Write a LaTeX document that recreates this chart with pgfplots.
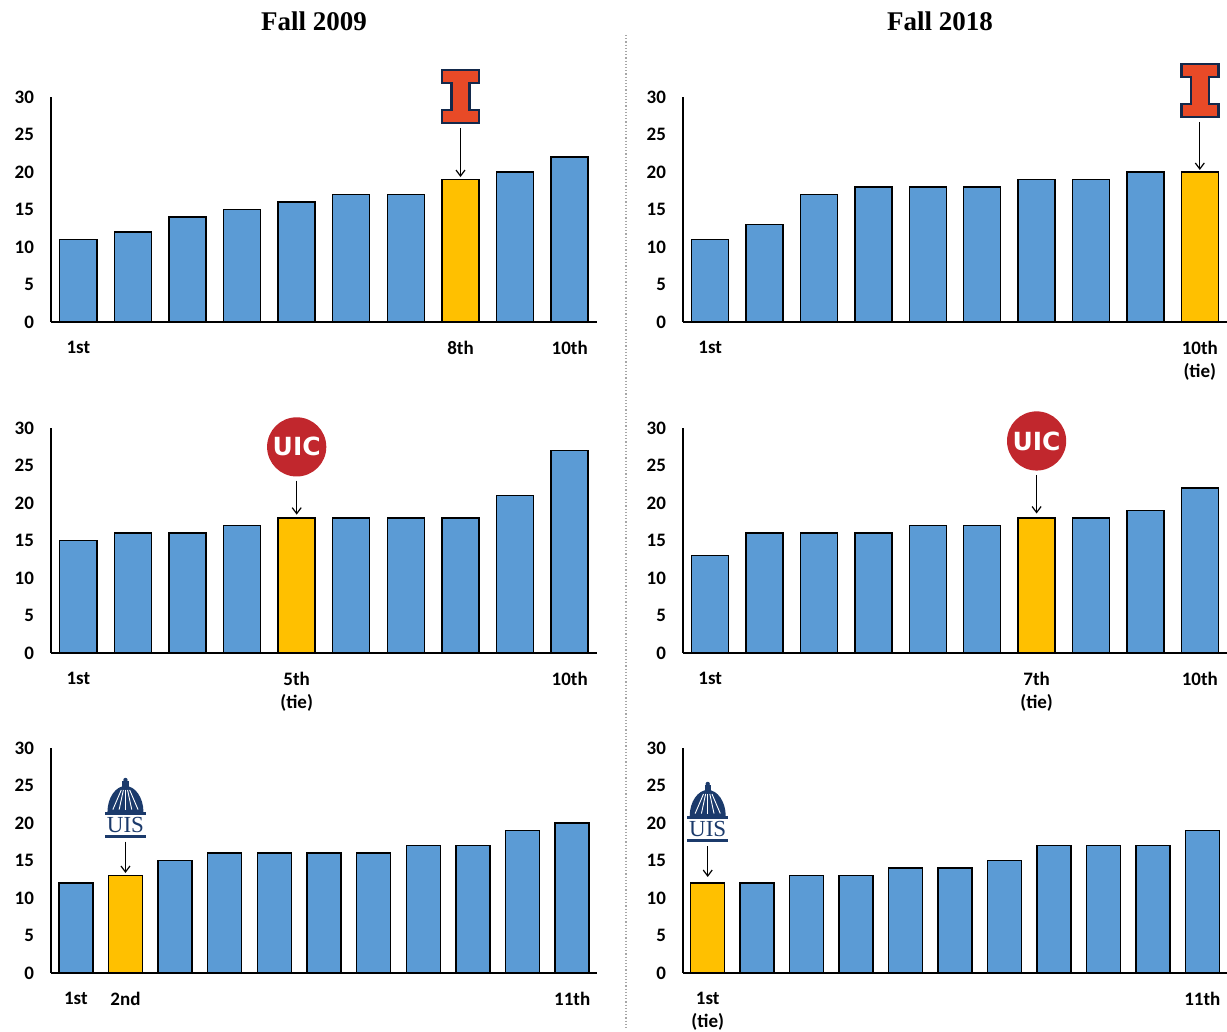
\documentclass[border=0pt]{standalone}
\usepackage{fontspec}
\setmainfont{Carlito}
\newfontfamily\titlefont{Liberation Serif}
\newfontfamily\dejavu{DejaVu Sans}
\usepackage{pgfplots}
\pgfplotsset{compat=1.18}
\usetikzlibrary{arrows.meta}

\definecolor{barblue}{HTML}{5B9BD5}
\definecolor{bargold}{HTML}{FFC000}
\definecolor{ilorange}{HTML}{E84A27}
\definecolor{ilnavy}{HTML}{13294B}
\definecolor{uicred}{HTML}{C1272D}
\definecolor{uisnavy}{HTML}{1B3A6B}

\tikzset{
  illI/.pic={
    \draw[ilnavy, line width=1.2pt, fill=ilorange, line join=miter]
      (-9.25pt,13.25pt)--(9.25pt,13.25pt)--(9.25pt,6.75pt)--(4.5pt,6.75pt)--(4.5pt,-6.75pt)--(9.25pt,-6.75pt)
      --(9.25pt,-13.25pt)--(-9.25pt,-13.25pt)--(-9.25pt,-6.75pt)--(-4.5pt,-6.75pt)--(-4.5pt,6.75pt)--(-9.25pt,6.75pt)--cycle;
  },
  uic/.pic={
    \fill[uicred] (0,0) circle (14.8pt);
    \node[text=white, inner sep=0, font=\dejavu\bfseries\fontsize{12.5}{12.5}\selectfont] at (0,0) {UIC};
  },
  uis/.pic={
    \fill[uisnavy] (-10.25pt,0) rectangle (10.25pt,1.6pt);
    \node[text=uisnavy, anchor=base, inner sep=0, font=\titlefont\fontsize{11.5}{11.5}\selectfont] at (0,2.8pt) {UIS};
    \fill[uisnavy] (-10.25pt,11.6pt) rectangle (10.25pt,13.2pt);
    \fill[uisnavy] (-9pt,13pt) .. controls (-9pt,20pt) and (-5pt,26pt) .. (0,26pt)
      .. controls (5pt,26pt) and (9pt,20pt) .. (9pt,13pt) -- cycle;
    \foreach \a in {-6,-3,0,3,6}{
      \draw[white, line width=0.45pt] (\a*0.35pt,24pt) -- (\a*1.05pt,14.2pt);
    }
    \fill[uisnavy] (-1.6pt,25pt) rectangle (1.6pt,28.5pt);
    \fill[uisnavy] (0,29pt) circle (1.1pt);
  }
}

\pgfplotsset{
  panel/.style={
    scale only axis,
    height=112.5pt,
    ymin=0, ymax=30,
    ytick={0,5,10,15,20,25,30},
    axis x line=bottom, axis y line=left,
    axis line style={-, black, line width=0.8pt},
    major tick length=0pt,
    ybar, bar shift=0pt,
    clip=false,
    enlargelimits=false,
    /pgf/number format/assume math mode=true,
    ticklabel style={font=\bfseries\fontsize{9.5}{11.5}\selectfont},
    yticklabel style={anchor=east, xshift=-5pt},
    xticklabel style={align=center, anchor=north, yshift=-6pt},
  },
  ten/.style={panel, width=#1, xmin=-0.5, xmax=9.5, bar width=18.5pt},
  eleven/.style={panel, width=#1, xmin=-0.5, xmax=10.5, bar width=17pt},
  blue/.style={draw=black, line width=0.7pt, fill=barblue},
  gold/.style={draw=black, line width=0.7pt, fill=bargold},
}

\begin{document}
\begin{tikzpicture}
\useasboundingbox (0,0) rectangle (613.5pt,516pt);

\node[font=\titlefont\bfseries\fontsize{13.5}{13.5}\selectfont] at (157pt,505.5pt) {Fall 2009};
\node[font=\titlefont\bfseries\fontsize{13.5}{13.5}\selectfont] at (470pt,505.5pt) {Fall 2018};
\draw[gray!70, densely dotted, line width=0.6pt] (313pt,498.5pt) -- (313pt,1pt);

% ---- Fall 2009, Illinois
\begin{axis}[ten=273pt, at={(25.5pt,355pt)}, xtick={0,7,9}, xticklabels={1st,8th,10th}]
\addplot[blue] coordinates {(0,11) (1,12) (2,14) (3,15) (4,16) (5,17) (6,17) (8,20) (9,22)};
\addplot[gold] coordinates {(7,19)};
\coordinate (iA) at (axis cs:7,30.07);
\draw[-{Straight Barb[length=3pt,width=4.5pt]}, line width=0.6pt] (axis cs:7,25.87) -- (axis cs:7,19.33);
\end{axis}
\pic at (iA) {illI};

% ---- Fall 2009, UIC
\begin{axis}[ten=273pt, at={(25.5pt,189.5pt)}, xtick={0,4,9}, xticklabels={1st,5th\\(tie),10th}]
\addplot[blue] coordinates {(0,15) (1,16) (2,16) (3,17) (5,18) (6,18) (7,18) (8,21) (9,27)};
\addplot[gold] coordinates {(4,18)};
\coordinate (iB) at (axis cs:4,27.48);
\draw[-{Straight Barb[length=3pt,width=4.5pt]}, line width=0.6pt] (axis cs:4,22.97) -- (axis cs:4,18.45);
\end{axis}
\pic at (iB) {uic};

% ---- Fall 2009, UIS
\begin{axis}[eleven=273pt, at={(25.5pt,29.5pt)}, xtick={0,1,10}, xticklabels={1st,2nd,11th}]
\addplot[blue] coordinates {(0,12) (2,15) (3,16) (4,16) (5,16) (6,16) (7,17) (8,17) (9,19) (10,20)};
\addplot[gold] coordinates {(1,13)};
\coordinate (iC) at (axis cs:1,18.0);
\draw[-{Straight Barb[length=3pt,width=4.5pt]}, line width=0.6pt] (axis cs:1,17.5) -- (axis cs:1,13.33);
\end{axis}
\pic at (iC) {uis};

% ---- Fall 2018, Illinois
\begin{axis}[ten=272pt, at={(341.5pt,355pt)}, xtick={0,9}, xticklabels={1st,10th\\(tie)}]
\addplot[blue] coordinates {(0,11) (1,13) (2,17) (3,18) (4,18) (5,18) (6,19) (7,19) (8,20)};
\addplot[gold] coordinates {(9,20)};
\coordinate (iD) at (axis cs:9,30.87);
\draw[-{Straight Barb[length=3pt,width=4.5pt]}, line width=0.6pt] (axis cs:9,26.67) -- (axis cs:9,20.27);
\end{axis}
\pic at (iD) {illI};

% ---- Fall 2018, UIC
\begin{axis}[ten=272pt, at={(341.5pt,189.5pt)}, xtick={0,6,9}, xticklabels={1st,7th\\(tie),10th}]
\addplot[blue] coordinates {(0,13) (1,16) (2,16) (3,16) (4,17) (5,17) (7,18) (8,19) (9,22)};
\addplot[gold] coordinates {(6,18)};
\coordinate (iE) at (axis cs:6,28.27);
\draw[-{Straight Barb[length=3pt,width=4.5pt]}, line width=0.6pt] (axis cs:6,23.76) -- (axis cs:6,18.6);
\end{axis}
\pic at (iE) {uic};

% ---- Fall 2018, UIS
\begin{axis}[eleven=272pt, at={(341.5pt,29.5pt)}, xtick={0,10}, xticklabels={1st\\(tie),11th}]
\addplot[blue] coordinates {(1,12) (2,13) (3,13) (4,14) (5,14) (6,15) (7,17) (8,17) (9,17) (10,19)};
\addplot[gold] coordinates {(0,12)};
\coordinate (iF) at (axis cs:0,17.47);
\draw[-{Straight Barb[length=3pt,width=4.5pt]}, line width=0.6pt] (axis cs:0,16.93) -- (axis cs:0,12.8);
\end{axis}
\pic at (iF) {uis};

\end{tikzpicture}
\end{document}
